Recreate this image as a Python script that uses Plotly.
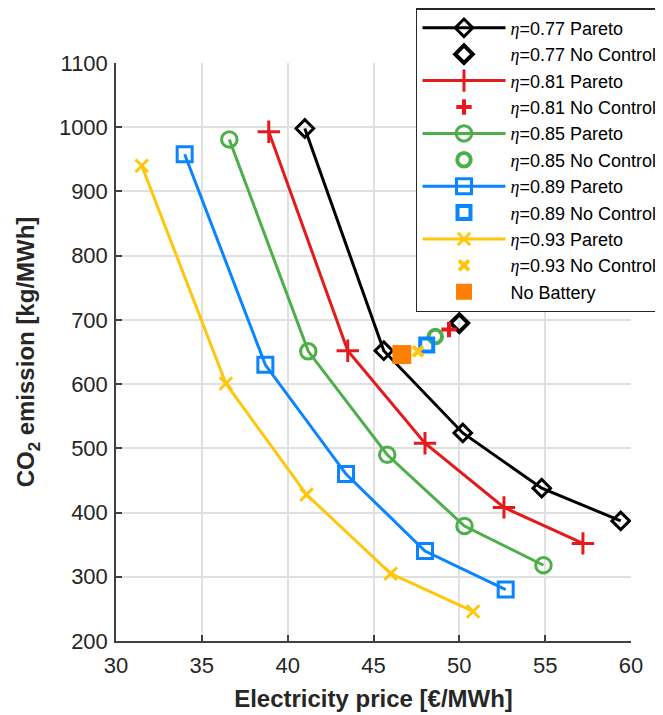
import plotly.graph_objects as go

# ---- data ----
etas = ["0.77", "0.81", "0.85", "0.89", "0.93"]

pareto_x_077 = [41.0, 45.6, 50.2, 54.8, 59.4]
pareto_y_077 = [998, 652, 524, 438, 387]
pareto_x_081 = [38.9, 43.5, 48.0, 52.6, 57.2]
pareto_y_081 = [993, 652, 508, 408, 352]
pareto_x_085 = [36.6, 41.2, 45.8, 50.3, 54.9]
pareto_y_085 = [981, 651, 490, 379, 318]
pareto_x_089 = [34.0, 38.7, 43.4, 48.0, 52.7]
pareto_y_089 = [958, 630, 460, 340, 280]
pareto_x_093 = [31.5, 36.4, 41.1, 46.0, 50.8]
pareto_y_093 = [940, 601, 428, 305, 246]

nocontrol_x = [50.0, 49.4, 48.6, 48.1, 47.6]
nocontrol_y = [695, 685, 674, 661, 651]

nobattery_x = [46.65]
nobattery_y = [646]

colors = ["#000000", "#E41A1C", "#4DAF4A", "#0A84FF", "#FFC60B"]
symbols = ["diamond-open", "cross-thin-open", "circle-open", "square-open", "x-thin-open"]
sizes = [13.5, 16, 15.5, 15, 12.5]
nc_sizes = [13.5, 11, 13.5, 13, 10]

pareto_x = [pareto_x_077, pareto_x_081, pareto_x_085, pareto_x_089, pareto_x_093]
pareto_y = [pareto_y_077, pareto_y_081, pareto_y_085, pareto_y_089, pareto_y_093]

ETA = '<span style="font-family:Liberation Serif, DejaVu Serif, serif"><i>η</i></span>'

fig = go.Figure()
for i, eta in enumerate(etas):
    fig.add_trace(go.Scatter(
        x=pareto_x[i], y=pareto_y[i], mode="lines+markers",
        name=ETA + "=" + eta + " Pareto",
        line=dict(color=colors[i], width=3),
        marker=dict(symbol=symbols[i], size=sizes[i], color=colors[i],
                    line=dict(color=colors[i], width=3)),
    ))
    fig.add_trace(go.Scatter(
        x=[nocontrol_x[i]], y=[nocontrol_y[i]], mode="markers",
        name=ETA + "=" + eta + " No Control",
        marker=dict(symbol=symbols[i], size=nc_sizes[i], color=colors[i],
                    line=dict(color=colors[i], width=4)),
    ))
fig.add_trace(go.Scatter(
    x=nobattery_x, y=nobattery_y, mode="markers", name="No Battery",
    marker=dict(symbol="square", size=19, color="#FF8000",
                line=dict(width=0)),
))

FONT = "Liberation Sans, Arial, sans-serif"
axis_font = dict(family=FONT, size=22, color="#262626")
fig.update_layout(
    width=655, height=707,
    margin=dict(l=108, r=32, t=55, b=74, autoexpand=False),
    paper_bgcolor="white", plot_bgcolor="white",
    font=dict(family=FONT, color="#262626"),
    showlegend=True,
    legend=dict(
        x=0.5825, y=1.095, xanchor="left", yanchor="top",
        bgcolor="white", bordercolor="#262626", borderwidth=1.5,
        font=dict(family=FONT, size=18, color="#000000"),
        itemwidth=83, tracegroupgap=0,
    ),
    xaxis=dict(
        range=[30, 60], dtick=5, tick0=30,
        showgrid=True, gridcolor="#E0E0E0", gridwidth=2,
        showline=True, linecolor="#404040", linewidth=1.5,
        ticks="inside", ticklen=6, tickcolor="#404040", tickwidth=1.5,
        tickfont=axis_font, zeroline=False, automargin=False,
        ticklabelstandoff=4,
        title=dict(text="<b>Electricity price [€/MWh]</b>", font=dict(size=24, color="#262626"),
                   standoff=13),
    ),
    yaxis=dict(
        range=[200, 1100], dtick=100, tick0=200,
        showgrid=True, gridcolor="#E0E0E0", gridwidth=2,
        showline=True, linecolor="#404040", linewidth=1.5,
        ticks="inside", ticklen=6, tickcolor="#404040", tickwidth=1.5,
        tickfont=axis_font, zeroline=False, automargin=False,
        ticklabelstandoff=2,
        title=dict(text="<b>CO<sub>2</sub> emission [kg/MWh]</b>", font=dict(size=24, color="#262626"),
                   standoff=17),
    ),
)

fig.write_html("out.html")
